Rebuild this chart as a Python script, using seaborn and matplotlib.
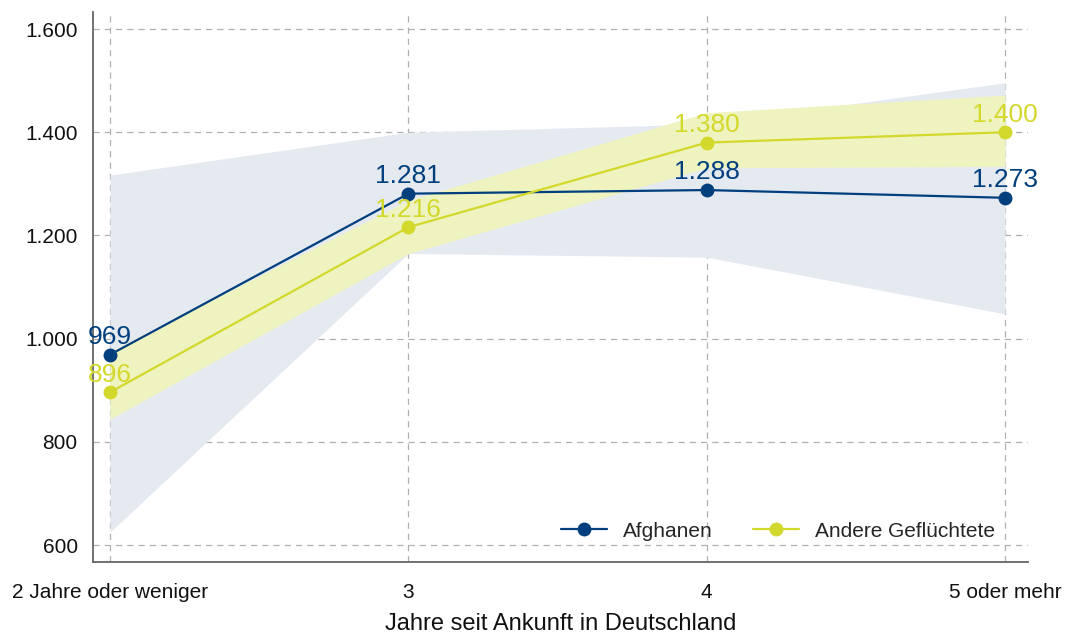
import matplotlib
matplotlib.use("Agg")
import matplotlib.pyplot as plt
import matplotlib.ticker as mticker
import seaborn as sns
import pandas as pd
import numpy as np

categories = ["2 Jahre oder weniger", "3", "4", "5 oder mehr"]
afghanen = [969, 1281, 1288, 1273]
afghanen_lo = [625, 1165, 1158, 1048]
afghanen_hi = [1317, 1400, 1416, 1496]
andere = [896, 1216, 1380, 1400]
andere_lo = [844, 1165, 1331, 1334]
andere_hi = [975, 1268, 1438, 1472]
series_names = ["Afghanen", "Andere Geflüchtete"]
yticks = [600, 800, 1000, 1200, 1400, 1600]
xlabel = "Jahre seit Ankunft in Deutschland"

BLUE = "#003f7d"
YELLOW = "#d3d82c"
BAND_BLUE = "#e5eaf1"
BAND_YELLOW = "#eff3bf"

sns.set_theme(style="white")
plt.rcParams["font.family"] = ["Liberation Sans", "DejaVu Sans"]

x = np.arange(len(categories))
df = pd.DataFrame({
    "x": np.concatenate([x, x]),
    "value": afghanen + andere,
    "series": [series_names[0]] * len(x) + [series_names[1]] * len(x),
})

fig = plt.figure(figsize=(10.69, 6.33), dpi=100)
ax = fig.add_axes([0.087, 0.112, 0.8747, 0.869])

ax.fill_between(x, afghanen_lo, afghanen_hi, color=BAND_BLUE, linewidth=0, zorder=1)
ax.fill_between(x, andere_lo, andere_hi, color=BAND_YELLOW, linewidth=0, zorder=1.1)

sns.lineplot(data=df, x="x", y="value", hue="series", palette=[BLUE, YELLOW],
             marker="o", markersize=10, markeredgewidth=0, linewidth=1.6,
             ax=ax, zorder=3)

for vals, col in [(afghanen, BLUE), (andere, YELLOW)]:
    for xi, v in zip(x, vals):
        ax.annotate(f"{v:,}".replace(",", "."), (xi, v), xytext=(0, 4),
                    textcoords="offset points", ha="center", va="bottom",
                    fontsize=19, color=col, zorder=4)

ax.set_xlim(-0.057, 3.077)
ax.set_ylim(567, 1633)
ax.set_xticks(x)
ax.set_xticklabels(categories)
ax.set_yticks(yticks)
ax.yaxis.set_major_formatter(mticker.FuncFormatter(lambda v, p: f"{int(v):,}".replace(",", ".")))
ax.tick_params(axis="both", labelsize=15, colors="#888888", labelcolor="#111111",
               length=5, width=0.8, pad=6)
ax.tick_params(axis="x", pad=10)

ax.grid(True, which="major", axis="both", color="#b0b0b0", linestyle=(0, (5, 4)), linewidth=0.9)
ax.set_axisbelow(True)

for s in ["top", "right"]:
    ax.spines[s].set_visible(False)
for s in ["left", "bottom"]:
    ax.spines[s].set_color("#666666")
    ax.spines[s].set_linewidth(1.3)

ax.set_xlabel(xlabel, fontsize=17, color="#111111", labelpad=8)
ax.set_ylabel("")

leg = ax.legend(title=None, loc="lower right", ncol=2, frameon=False, fontsize=15,
                bbox_to_anchor=(0.985, 0.005), handlelength=2.2, columnspacing=1.9,
                handletextpad=0.8)

fig.savefig("out.png", dpi=100)
